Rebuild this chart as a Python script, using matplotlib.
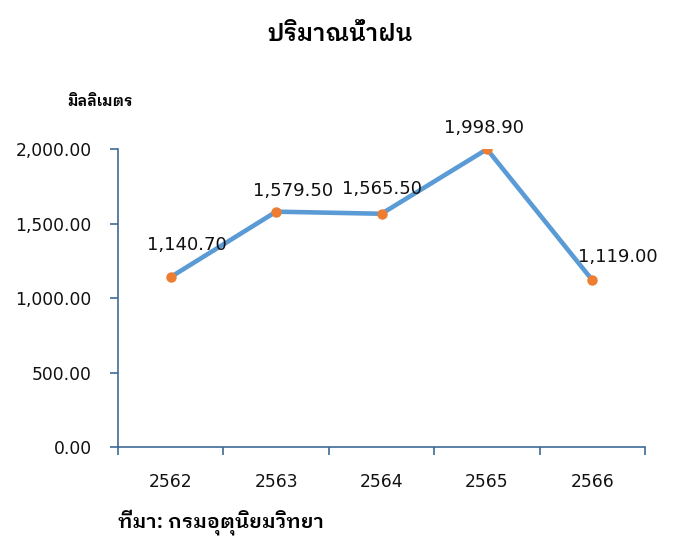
import matplotlib
matplotlib.use("Agg")
import matplotlib.pyplot as plt
import numpy as np

# data
years = ["2562", "2563", "2564", "2565", "2566"]
rain_mm = [1140.70, 1579.50, 1565.50, 1998.90, 1119.00]

title = "ปริมาณน้ำฝน"
unit_label = "มิลลิเมตร"
source_label = "ที่มา: กรมอุตุนิยมวิทยา"

# label offsets in points (dx, dy), matched to the reference by eye
label_offsets = [(12, 23), (12, 15), (0, 18), (-2, 15), (18, 17)]

thai = ["IBM Plex Sans Thai Looped", "DejaVu Sans"]
num_font = "DejaVu Sans"
axis_col = "#3F6A96"

fig = plt.figure(figsize=(6.73, 5.36), dpi=100)
ax = fig.add_axes([0.1753, 0.166, 0.7833, 0.556])

x = np.arange(len(years))
ax.plot(x, rain_mm, color="#5B9BD5", linewidth=3.3, solid_joinstyle="miter",
        zorder=2)
ax.plot(x, rain_mm, linestyle="none", marker="o", markersize=6.5,
        color="#ED7D31", zorder=3)

for xi, v, (dx, dy) in zip(x, rain_mm, label_offsets):
    ax.annotate(f"{v:,.2f}", (xi, v), xytext=(dx, dy),
                textcoords="offset points", ha="center", va="center",
                fontsize=13, family=num_font, color="#111111")

ax.set_xlim(-0.5, len(years) - 0.5)
ax.set_ylim(0, 2000)

# ticks sit between categories, labels at category centres
ax.set_xticks(np.arange(-0.5, len(years), 1.0))
ax.set_xticklabels([])
ax.set_xticks(x, minor=True)
ax.set_xticklabels(years, minor=True)
ax.tick_params(axis="x", which="major", direction="out", length=6,
               width=1.2, color=axis_col)
ax.tick_params(axis="x", which="minor", length=0, pad=19, labelsize=12.3)

ax.set_yticks([0, 500, 1000, 1500, 2000])
ax.set_yticklabels([f"{t:,.2f}" for t in [0, 500, 1000, 1500, 2000]])
ax.tick_params(axis="y", direction="out", length=6, width=1.2,
               color=axis_col, pad=13, labelsize=12.3)

for lab in ax.get_xticklabels(minor=True) + ax.get_yticklabels():
    lab.set_family(num_font)
    lab.set_color("#111111")

for s in ["top", "right"]:
    ax.spines[s].set_visible(False)
for s in ["left", "bottom"]:
    ax.spines[s].set_color(axis_col)
    ax.spines[s].set_linewidth(1.2)

fig.text(0.505, 0.935, title, ha="center", va="center", fontsize=17,
         fontweight="semibold", family=thai)
fig.text(0.1, 0.81, unit_label, ha="left", va="center", fontsize=11,
         fontweight="semibold", family=thai)
fig.text(0.175, 0.026, source_label, ha="left", va="center", fontsize=14.5,
         fontweight="semibold", family=thai)

fig.savefig("out.png", dpi=100)
